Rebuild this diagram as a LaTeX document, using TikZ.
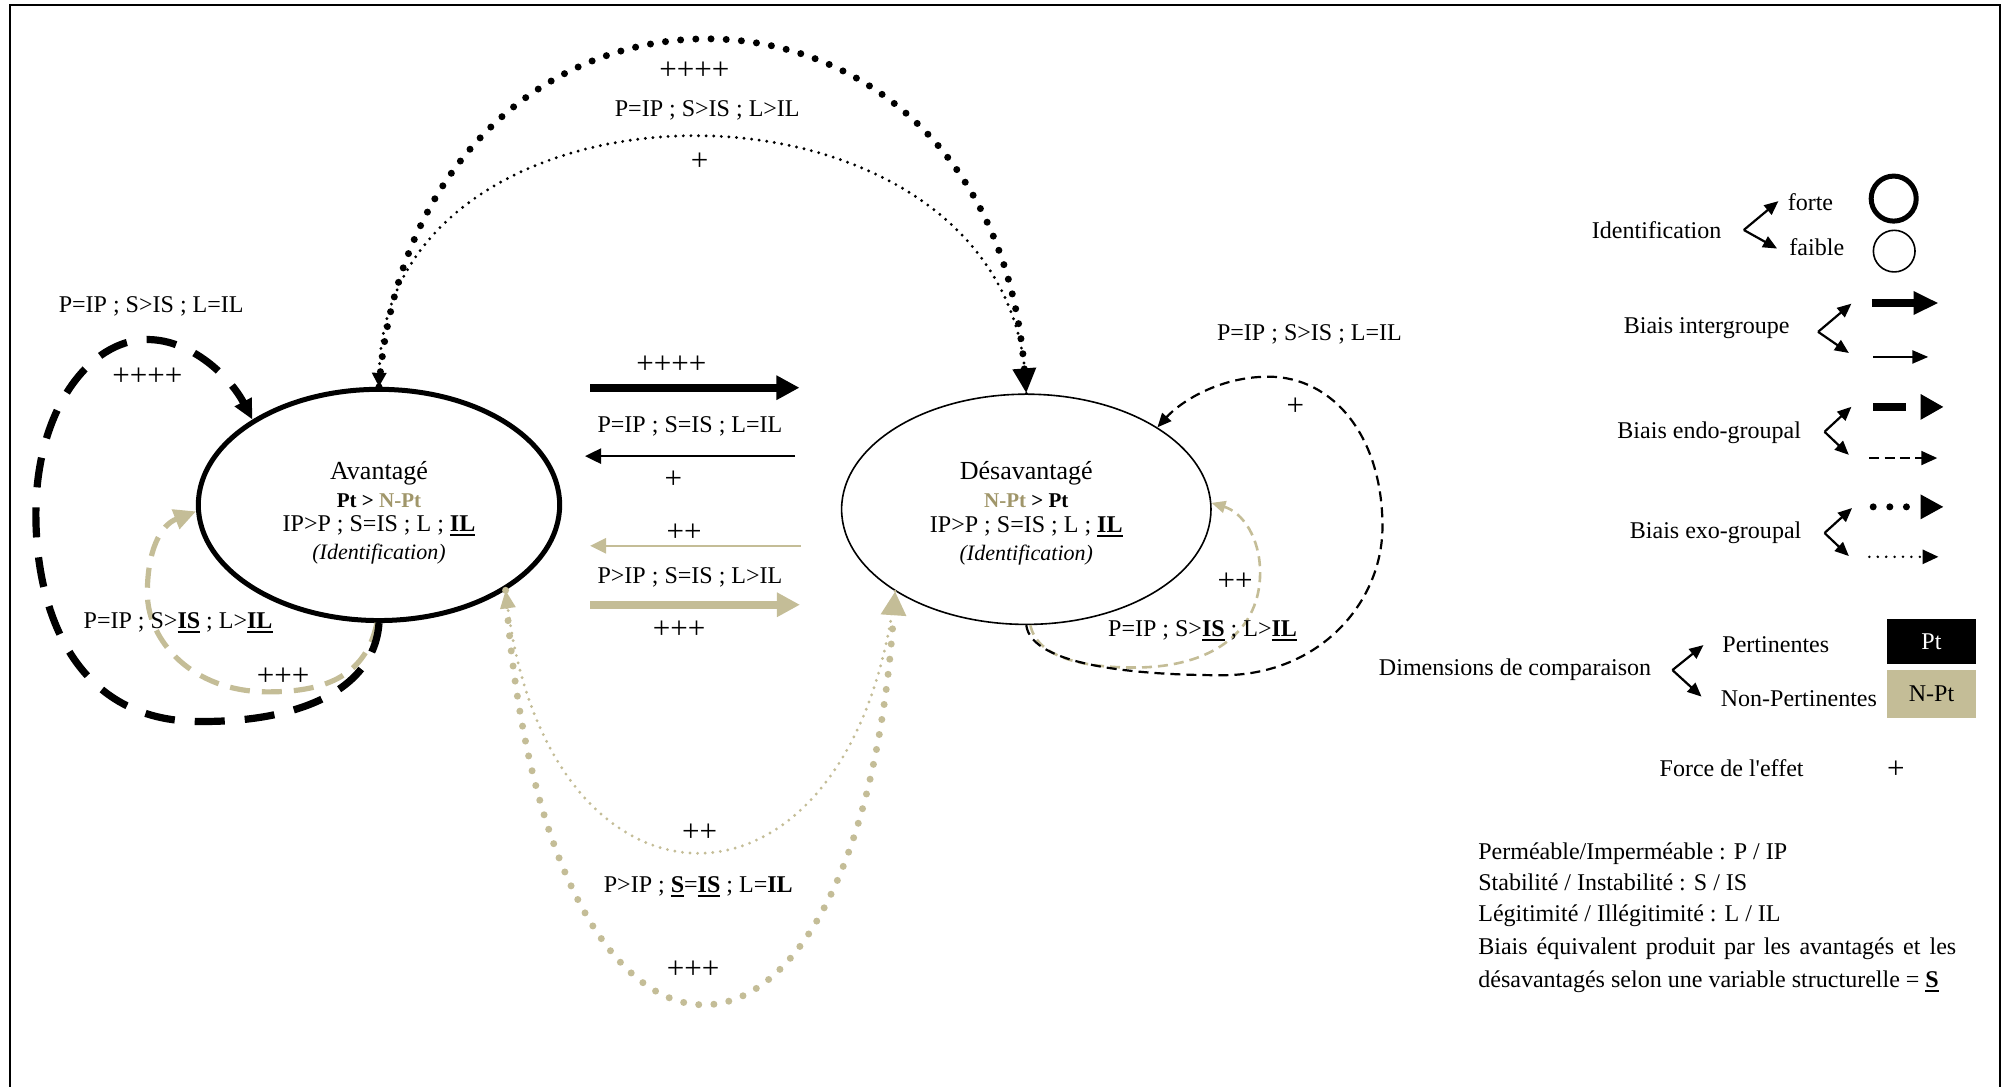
\documentclass[tikz,border=0pt]{standalone}
\usepackage{fontspec}
\setmainfont{Liberation Serif}
\usetikzlibrary{shapes.geometric,arrows.meta}
\definecolor{tanc}{HTML}{C4BD97}
\definecolor{tantext}{HTML}{A0966A}
\newcommand{\bul}[1]{\setbox0=\hbox{\bfseries #1}\rlap{\rule[-2.3pt]{\wd0}{1pt}}\box0\relax}
\begin{document}
\begin{tikzpicture}[x=0.64pt,y=-0.64pt,
  every node/.style={font=\fontsize{12}{13.5}\selectfont, inner sep=0pt},
  plus/.style={font=\fontsize{15.5}{16}\selectfont},
  thickdot/.style={line width=3.5pt, line cap=round, dash pattern=on 0pt off 7.6pt},
  thindot/.style={line width=1.6pt, line cap=round, dash pattern=on 0pt off 3.8pt},
  bigdash/.style={line width=3.6pt, dash pattern=on 15pt off 10pt},
  tandash/.style={line width=2.6pt, dash pattern=on 10pt off 6pt},
  rdash/.style={line width=1.1pt, dash pattern=on 5pt off 3pt},
  fork/.style={line width=1.1pt, -{Triangle[length=7pt,width=6pt]}},
  grp/.style={ellipse, draw, inner sep=0pt},
  grptext/.style={align=center}
]
\useasboundingbox (0,0) rectangle (1568,848);
% frame
\draw[line width=1pt] (8,848) -- (8,4) -- (1561,4) -- (1561,848);

% group ellipses
\node[grp, line width=2.5pt, minimum width=180.5pt, minimum height=115.5pt] (av) at (295.8,394.1) {};
\node[grptext] (avtxt) at ([yshift=-3.8pt]av.center)
 {{\fontsize{13}{13}\selectfont Avantagé}\\[0.5pt]
  {\fontsize{10.5}{12}\selectfont\bfseries Pt > \textcolor{tantext}{N-Pt}}\\[-1.3pt]
  IP>P ; S=IS ; L ; \bul{IL}\\[0.5pt]
  {\itshape\fontsize{11}{12}\selectfont (Identification)}};
\node[grp, line width=0.8pt, minimum width=184.5pt, minimum height=115pt] (dv) at (801,397.5) {};
\node[grptext] (dvtxt) at ([yshift=-2pt]dv.center)
 {{\fontsize{13}{13}\selectfont Désavantagé}\\[0.5pt]
  {\fontsize{10.5}{12}\selectfont\bfseries \textcolor{tantext}{N-Pt} > Pt}\\[-1.3pt]
  IP>P ; S=IS ; L ; \bul{IL}\\[0.5pt]
  {\itshape\fontsize{11}{12}\selectfont (Identification)}};

% top arcs (exo-group bias, black)
\draw[thickdot, -{Triangle[length=12.5pt,width=11pt]}] (av.north) .. controls (325,-58) and (772,-58) .. (dv.north);
\draw[thindot, -{Triangle[length=7pt,width=7pt]}] (dv.north) .. controls (796,41.5) and (300,41.5) .. (av.north);
\node[plus] (t4) at (542,55) {++++};
\node (tlab) at (552,86) {P=IP ; S>IS ; L>IL};
\node[plus] (t1) at (546,126) {+};

% middle arrows (intergroup bias)
\coordinate (m1s) at (460.5,302.6);
\coordinate (m1e) at (624,302.6);
\coordinate (m2s) at (620.5,356);
\coordinate (m2e) at (456.6,356);
\coordinate (m3s) at (625,426);
\coordinate (m3e) at (460.5,426);
\coordinate (m4s) at (460.5,472);
\coordinate (m4e) at (624.4,472);
\draw[line width=4pt, -{Triangle[length=11.5pt,width=11.5pt]}] (m1s) -- (m1e);
\draw[line width=1.3pt, -{Triangle[length=8pt,width=7.5pt]}] (m2s) -- (m2e);
\draw[tanc, line width=1.3pt, -{Triangle[length=8pt,width=7.5pt]}] (m3s) -- (m3e);
\draw[tanc, line width=4pt, -{Triangle[length=11.5pt,width=11.5pt]}] (m4s) -- (m4e);
\node[plus] (m4) at (524,285) {++++};
\node (mlab1) at (538.5,333) {P=IP ; S=IS ; L=IL};
\node[plus] (m1) at (525.5,374.6) {+};
\node[plus] (m2) at (534,416) {++};
\node (mlab2) at (538.5,451) {P>IP ; S=IS ; L>IL};
\node[plus] (m3) at (530,491.7) {+++};

% bottom arcs (exo-group bias, tan)
\draw[thickdot, tanc, -{Triangle[length=12pt,width=12pt]}] (av.-34) .. controls (425,889) and (670,889) .. (dv.212);
\draw[thindot, tanc, -{Triangle[length=9pt,width=7.5pt]}] (dv.212) .. controls (665,732) and (430,732) .. (av.-34);
\node[plus] (b2) at (546,650) {++};
\node (blab) at (545,692) {P>IP ; \bul{S}=\bul{IS} ; L=\textbf{IL}};
\node[plus] (b3) at (541,757) {+++};

% left loops (endo-group bias of Avantagé)
\draw[tandash, tanc, -{Triangle[length=11pt,width=10pt]}] (av.-91) .. controls (285,530) and (250,540) .. (209,540) .. controls (150,540) and (115,500) .. (115,463) .. controls (115,430) and (125,410) .. (av.182);
\draw[bigdash, -{Triangle[length=10pt,width=9pt]}] (av.south) .. controls (292,540) and (230,565) .. (150,563) .. controls (60,560) and (28,480) .. (28,401) .. controls (28,320) and (70,265) .. (115,265) .. controls (150,265) and (180,295) .. (av.146);
\node[plus] (l4) at (115,294) {++++};
\node (llab1) at (118,239.5) {P=IP ; S>IS ; L=IL};
\node[plus] (l3) at (221,528.5) {+++};
\node (llab2) at (139,486) {P=IP ; S>\bul{IS} ; L>\bul{IL}};

% right loops (endo-group bias of Désavantagé)
\draw[rdash, tanc, line width=1.3pt, -{Triangle[length=7pt,width=6pt]}] (dv.-88) .. controls (810,515) and (850,521) .. (885,521) .. controls (950,521) and (983.5,490) .. (983.5,447) .. controls (983.5,420) and (970,400) .. (dv.2);
\draw[rdash, -{Triangle[length=7pt,width=6pt]}] (dv.south) .. controls (805,520) and (890,527) .. (954,527) .. controls (1030,527) and (1079,470) .. (1079,411) .. controls (1079,340) and (1040,294) .. (990,294) .. controls (950,294) and (920,315) .. (dv.32);
\node[plus] (r1) at (1011,317.5) {+};
\node (rlab1) at (1022,261) {P=IP ; S>IS ; L=IL};
\node[plus] (r2) at (964,454) {++};
\node (rlab2) at (938.6,492) {P=IP ; S>\bul{IS} ; L>\bul{IL}};

% ---------------- legend ----------------
\node (lid) at (1293,180) {Identification};
\coordinate (f1v) at (1361,179.5);
\coordinate (f1a) at (1388,157);
\coordinate (f1b) at (1387,194);
\draw[fork] (f1v) -- (f1a);
\draw[fork] (f1v) -- (f1b);
\node (lforte) at (1413,158) {forte};
\node (lfaible) at (1418,193) {faible};
\node[circle, draw, line width=2.5pt, minimum size=22.5pt] (cforte) at (1478,155) {};
\node[circle, draw, line width=0.8pt, minimum size=20.8pt] (cfaible) at (1478.4,196) {};

\node (linter) at (1332,256) {Biais intergroupe};
\coordinate (f2v) at (1419,259);
\coordinate (f2a) at (1445,237);
\coordinate (f2b) at (1443,275.5);
\draw[fork] (f2v) -- (f2a);
\draw[fork] (f2v) -- (f2b);
\coordinate (g1s) at (1461,236.5);
\coordinate (g1e) at (1513,236.5);
\coordinate (g2s) at (1462,278.6);
\coordinate (g2e) at (1505,278.6);
\draw[line width=4.2pt, -{Triangle[length=12.5pt,width=11pt]}] (g1s) -- (g1e);
\draw[line width=1.2pt, -{Triangle[length=8pt,width=6.5pt]}] (g2s) -- (g2e);

\node (lendo) at (1334,338) {Biais endo-groupal};
\coordinate (f3v) at (1424,337);
\coordinate (f3a) at (1445,317.5);
\coordinate (f3b) at (1443,355);
\draw[fork] (f3v) -- (f3a);
\draw[fork] (f3v) -- (f3b);
\coordinate (g3s) at (1462,317.6);
\coordinate (g3e) at (1517,317.6);
\coordinate (g4s) at (1459,357.5);
\coordinate (g4e) at (1512,357.5);
\draw[line width=4.2pt, dash pattern=on 16.5pt off 20pt, -{Triangle[length=11.5pt,width=12pt]}] (g3s) -- (g3e);
\draw[line width=1pt, dash pattern=on 5pt off 2.6pt, -{Triangle[length=8pt,width=7pt]}] (g4s) -- (g4e);

\node (lexo) at (1339,416) {Biais exo-groupal};
\coordinate (f4v) at (1424,416);
\coordinate (f4a) at (1445.5,396.5);
\coordinate (f4b) at (1443,434);
\draw[fork] (f4v) -- (f4a);
\draw[fork] (f4v) -- (f4b);
\coordinate (g5s) at (1462,395.6);
\coordinate (g5e) at (1517,395.6);
\coordinate (g6s) at (1459,434.6);
\coordinate (g6e) at (1513,434.6);
\draw[line width=3.5pt, line cap=round, dash pattern=on 0pt off 8.3pt, -{Triangle[length=11.5pt,width=11.5pt]}] (g5s) -- (g5e);
\draw[line width=1.4pt, line cap=round, dash pattern=on 0pt off 4.2pt, -{Triangle[length=8pt,width=7pt]}] (g6s) -- (g6e);

\node (ldim) at (1182.5,523) {Dimensions de comparaison};
\coordinate (f5v) at (1305.3,523);
\coordinate (f5a) at (1329.5,503.5);
\coordinate (f5b) at (1328,543.7);
\draw[fork] (f5v) -- (f5a);
\draw[fork] (f5v) -- (f5b);
\node (lpert) at (1386,503.5) {Pertinentes};
\node (lnpert) at (1404,545) {Non-Pertinentes};
\node[fill=black, text=white, minimum width=44.2pt, minimum height=22.4pt] (ptbox) at (1507.5,500.5) {Pt};
\node[fill=tanc, minimum width=44.2pt, minimum height=23.7pt] (nptbox) at (1507.5,541.5) {N-Pt};

\node (lforce) at (1351.5,599.5) {Force de l\textquotesingle effet};
\node[plus] (lplus) at (1479.7,601) {+};

\node[anchor=base west] (leg1) at (1153.5,670.5) {Perméable/Imperméable : P / IP};
\node[anchor=base west] (leg2) at (1153.5,695) {Stabilité / Instabilité : S / IS};
\node[anchor=base west] (leg3) at (1153.5,719.6) {Légitimité / Illégitimité : L / IL};
\node[anchor=base west] (leg4) at (1153.5,745) {\makebox[238.7pt][s]{Biais équivalent produit par les avantagés et les}};
\node[anchor=base west] (leg5) at (1153.5,771) {désavantagés selon une variable structurelle = \bul{S}};
\end{tikzpicture}
\end{document}
